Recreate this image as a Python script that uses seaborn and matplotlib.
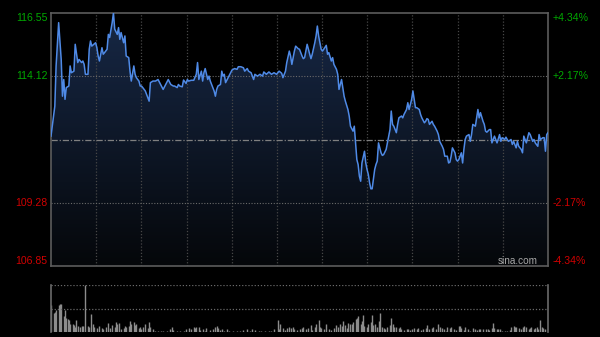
import numpy as np
import matplotlib
matplotlib.use("Agg")
import matplotlib.pyplot as plt
import seaborn as sns
from matplotlib.patches import Polygon

plt.rcParams['font.family'] = ['Liberation Sans', 'DejaVu Sans']

# ---------------- data ----------------
prev_close = 111.70
price_ticks = [116.55, 114.12, 109.28, 106.85]
pct_labels = ['+4.34%', '+2.17%', '-2.17%', '-4.34%']

minutes = [0,3,4,6,8,9,10,11,12,14,15,16,18,19,21,22,24,25,26,27,29,30,31,32,35,36,37,38,40,41,
           42,44,45,46,48,49,50,52,53,54,55,57,58,59,61,62,63,65,66,67,69,70,71,72,74,75,77,78,80,82,
           84,86,88,90,92,94,96,
           97,99,100,101,103,104,106,107,108,110,112,114,115,116,118,119,120,121,123,124,
           125,127,128,129,130,131,133,134,135,136,137,139,141,142,144,146,147,149,151,152,
           154,155,157,159,160,162,164,166,167,169,171,173,175,177,179,181,182,184,185,187,
           188,189,191,192,194,195,
           197,198,199,201,203,204,205,207,208,209,210,212,213,214,216,217,218,220,221,222,
           224,225,226,228,229,230,231,233,234,235,237,238,239,240,241,242,243,244,246,247,
           248,249,250,251,252,254,255,256,257,259,260,261,263,264,266,267,268,269,271,272,
           273,275,276,277,279,280,281,283,284,285,286,287,289,290,291,293,
           294,295,296,297,299,300,301,303,304,305,307,308,309,311,312,313,314,315,317,318,
           319,320,322,323,324,325,326,328,329,330,331,333,334,335,336,337,339,340,341,342,
           344,345,346,348,349,350,352,353,354,356,357,358,359,361,362,363,365,366,367,369,
           370,371,373,374,375,376,378,379,380,382,383,384,386,387,388,389,390]

prices = [111.83,112.98,114.52,116.18,114.77,113.36,114.00,113.24,113.69,113.75,114.52,114.26,114.32,115.35,
          114.65,114.77,114.65,114.71,114.58,114.20,114.20,115.16,115.48,115.28,115.41,115.22,114.90,114.71,
          115.22,114.97,115.03,115.16,115.73,115.61,116.18,116.55,115.93,115.73,115.99,115.54,115.80,115.41,
          115.67,114.90,114.84,114.32,113.94,114.52,114.20,114.07,113.94,113.75,113.75,113.69,113.56,113.43,
          113.17,113.88,113.94,113.94,114.00,113.81,113.62,113.81,114.00,113.81,113.75,
          113.75,113.69,113.81,113.75,113.72,113.98,113.85,114.00,113.94,113.97,113.97,114.20,114.65,114.00,
          114.32,113.94,114.26,114.42,114.00,114.13,113.94,113.69,113.56,113.36,113.62,113.75,113.81,114.32,
          114.13,114.20,113.88,114.07,114.26,114.36,114.42,114.39,114.49,114.49,114.45,114.32,114.42,114.32,
          114.26,114.00,114.20,114.13,114.20,114.13,114.29,114.20,114.29,114.20,114.26,114.20,114.32,114.24,
          114.07,114.32,114.65,115.09,114.90,114.58,115.09,115.28,115.18,115.16,
          114.90,114.80,114.84,115.35,114.97,114.80,114.97,115.41,115.67,116.05,115.67,115.16,115.09,115.16,
          115.31,114.97,115.03,114.71,114.84,114.58,114.39,114.20,113.62,114.00,113.69,113.36,113.17,112.85,
          112.60,112.21,112.02,112.21,111.57,110.93,110.74,110.29,110.10,110.80,111.25,110.80,110.55,110.36,
          110.04,109.81,109.81,110.55,110.74,110.87,111.57,111.19,111.09,111.12,111.32,111.57,112.08,112.79,
          112.28,112.21,111.96,112.28,112.53,112.60,112.53,112.66,112.85,113.11,112.85,113.24,113.56,113.24,
          112.92,112.92,112.85,112.66,112.53,112.34,
          112.40,112.50,112.47,112.28,112.40,112.28,112.21,112.02,111.89,111.63,111.44,111.32,111.06,111.06,
          110.80,110.83,111.06,111.38,111.19,110.93,110.87,110.93,111.19,110.80,111.32,111.70,111.83,111.89,
          111.63,111.89,112.28,112.21,112.53,112.85,112.53,112.73,112.40,112.28,112.02,111.98,112.08,112.08,
          111.57,111.83,111.70,111.57,111.89,111.63,111.77,111.70,111.79,111.70,111.63,111.70,111.51,111.63,
          111.38,111.63,111.44,111.32,111.19,111.83,111.57,111.77,111.96,111.89,111.63,111.70,111.57,111.44,
          111.89,111.70,111.77,111.77,111.25,111.89,111.96]

vol_minutes = [0,2,3,4,6,7,8,10,11,12,13,14,15,17,18,19,20,21,23,24,25,27,29,30,31,33,34,36,38,40,
               41,43,45,46,48,50,51,52,53,55,57,58,59,61,62,63,65,66,67,69,70,71,72,74,76,77,78,80,82,84,
               86,88,91,93,95,96,99,101,104,106,108,110,112,113,114,116,117,119,121,122,125,127,129,130,131,133,
               134,136,138,140,143,146,148,151,154,156,158,160,163,165,168,171,173,175,178,179,180,182,184,185,
               187,188,190,191,193,195,
               197,198,200,202,204,205,207,208,210,211,212,214,216,218,220,222,224,225,227,228,229,231,232,233,
               235,236,237,239,240,241,243,244,245,246,248,249,251,252,253,254,256,257,258,260,261,262,264,266,
               267,268,269,271,273,274,275,277,279,280,282,283,285,287,288,290,292,294,295,297,299,300,302,304,
               305,307,308,310,311,313,314,316,318,320,321,322,324,325,327,329,331,333,334,336,337,339,341,343,
               344,346,347,348,350,351,352,354,356,358,360,361,363,364,365,367,369,370,371,373,375,376,377,379,
               380,381,382,384,385,386,388]
volumes = [57,41,43,47,57,60,60,33,47,29,27,26,18,17,15,11,26,13,10,13,13,100,13,10,38,18,10,8,13,8,
           6,10,20,8,15,11,21,18,20,6,8,13,10,13,23,18,22,15,18,8,10,6,10,17,8,21,10,6,3,2,
           3,2,3,6,11,4,3,2,2,6,8,6,10,8,11,10,4,6,3,8,4,6,10,13,8,4,
           7,3,6,2,3,2,3,4,6,3,6,4,2,3,2,2,3,6,26,6,17,8,4,8,
           11,8,11,6,4,6,
           8,10,6,8,15,4,10,17,26,10,8,6,18,6,4,8,15,11,17,13,23,15,8,20,
           17,18,21,27,30,33,18,24,36,13,10,18,22,36,15,17,11,24,41,11,8,6,10,15,
           29,17,11,10,8,10,6,4,6,7,4,6,8,6,8,4,6,8,15,6,8,11,6,17,
           10,8,6,3,11,8,10,6,4,13,13,8,4,10,6,3,8,6,4,6,7,6,7,6,
           4,8,20,8,6,7,6,3,2,3,4,10,13,10,11,8,6,10,13,10,6,8,10,6,
           8,10,6,26,10,8,6]

# ---------------- figure ----------------
W, H = 600, 337
fig = plt.figure(figsize=(W / 100, H / 100), dpi=100, facecolor='black')
L, R = 51, 548
ax = fig.add_axes([L / W, 1 - 266 / H, (R - L) / W, (266 - 13) / H])
axv = fig.add_axes([L / W, 1 - 332 / H, (R - L) / W, (332 - 285) / H])

ymin, ymax = price_ticks[-1], price_ticks[0]
xmax = 390

for a in (ax, axv):
    a.set_facecolor('black')
    a.tick_params(left=False, bottom=False, right=False, top=False,
                  labelleft=False, labelbottom=False)

# gradient fill under the price line
top_c = np.array([23, 40, 70]) / 255
bot_c = np.array([5, 7, 10]) / 255
g = np.linspace(0, 1, 256)[:, None, None]
rgb = bot_c[None, None, :] * (1 - g) + top_c[None, None, :] * g
im = ax.imshow(rgb, extent=[0, xmax, ymin, ymax], origin='lower', aspect='auto',
               zorder=1, interpolation='bilinear')
verts = np.column_stack([np.r_[minutes, minutes[-1], minutes[0]],
                         np.r_[prices, ymin, ymin]])
clip = Polygon(verts, closed=True, transform=ax.transData, facecolor='none', edgecolor='none')
im.set_clip_path(clip)

sns.lineplot(x=minutes, y=prices, ax=ax, color='#4f8ae6', linewidth=1.1, zorder=4)
ax.set_xlabel('')
ax.set_ylabel('')
ax.set_xlim(0, xmax)
ax.set_ylim(ymin, ymax)

# grid
for k in range(1, 11):
    ax.axvline(xmax * k / 11, color='#474747', lw=0.9, ls=(0, (1, 1.5)), zorder=2)
for v in (price_ticks[1], price_ticks[2]):
    ax.axhline(v, color='#6a6a6a', lw=0.8, ls=(0, (1, 1.5)), zorder=2)
ax.axhline(prev_close, color='#808080', lw=0.9, ls=(0, (5, 1.5, 1, 1.5)), zorder=2)

for s in ax.spines.values():
    s.set_color('#5c5c5c')
    s.set_linewidth(1.2)

# price labels
green, red = '#00a800', '#d00000'
fs = 7.6
vas = ['top', 'center', 'center', 'bottom']
for v, p, va in zip(price_ticks, pct_labels, vas):
    c = green if v > prev_close else red
    ax.text(-0.007, v, f'{v:.2f}', transform=ax.get_yaxis_transform(), ha='right', va=va,
            color=c, fontsize=fs)
    ax.text(1.009, v, p, transform=ax.get_yaxis_transform(), ha='left', va=va,
            color=c, fontsize=fs)

ax.text(0.94, 0.018, 'sina.com', transform=ax.transAxes, ha='center', va='center',
        color='#a8a8a8', fontsize=7.2, zorder=5)

# volume panel
axv.vlines(vol_minutes, 0, volumes, color='#8c8c8c', lw=1.0)
axv.set_xlim(0, xmax)
axv.set_ylim(0, 100)
axv.axhline(99.5, color='#6a6a6a', lw=0.9, ls=(0, (1, 1.5)))
axv.axhline(50, color='#6a6a6a', lw=0.9, ls=(0, (1, 1.5)))
axv.spines['top'].set_visible(False)
axv.spines['bottom'].set_visible(False)
for s in ('left', 'right'):
    axv.spines[s].set_color('#6a6a6a')
    axv.spines[s].set_linewidth(1.2)

fig.savefig('out.png', dpi=100, facecolor='black')
